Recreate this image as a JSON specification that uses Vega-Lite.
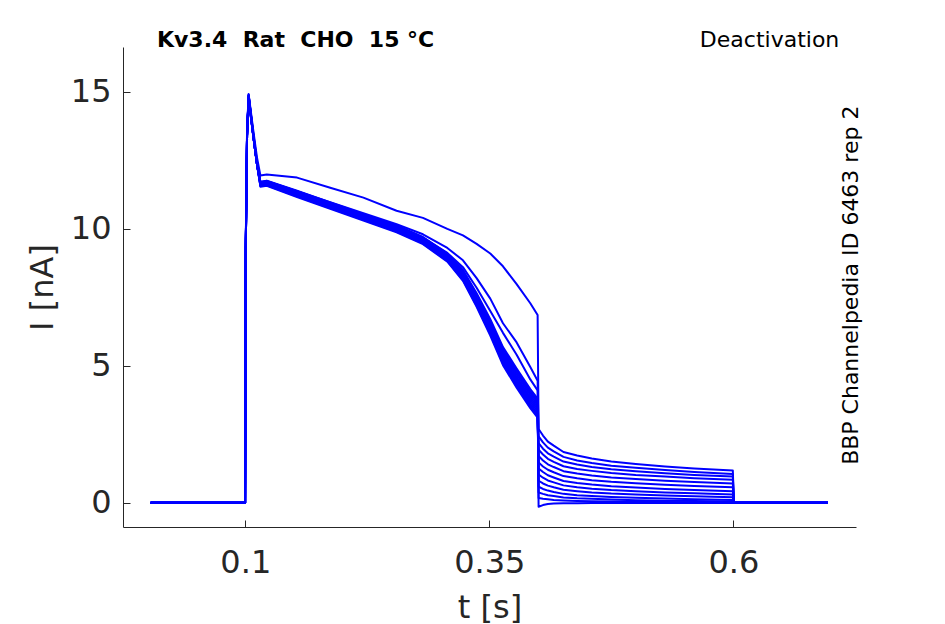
{
  "$schema": "https://vega.github.io/schema/vega-lite/v6.json",
  "width": 733,
  "height": 480,
  "autosize": {"type": "none"},
  "padding": {"left": 123, "top": 47, "right": 89, "bottom": 97},
  "background": "white",
  "datasets": {
    "traces": [
      {"s":1,"t":0.003,"i":0},{"s":1,"t":0.0998,"i":0},{"s":1,"t":0.1005,"i":9.5},{"s":1,"t":0.1018,"i":13.6},{"s":1,"t":0.1034,"i":14.92},{"s":1,"t":0.1085,"i":13.5},{"s":1,"t":0.112,"i":12.6},{"s":1,"t":0.1155,"i":11.95},{"s":1,"t":0.122,"i":11.98},{"s":1,"t":0.153,"i":11.87},{"s":1,"t":0.187,"i":11.5},{"s":1,"t":0.221,"i":11.14},{"s":1,"t":0.255,"i":10.66},{"s":1,"t":0.282,"i":10.4},{"s":1,"t":0.307,"i":10.0},{"s":1,"t":0.323,"i":9.76},{"s":1,"t":0.337,"i":9.45},{"s":1,"t":0.351,"i":9.1},{"s":1,"t":0.364,"i":8.63},{"s":1,"t":0.378,"i":7.98},{"s":1,"t":0.392,"i":7.28},{"s":1,"t":0.3995,"i":6.85},
      {"s":1,"t":0.4005,"i":2.69},{"s":1,"t":0.405,"i":2.45},{"s":1,"t":0.41,"i":2.23},{"s":1,"t":0.416,"i":2.08},{"s":1,"t":0.426,"i":1.85},{"s":1,"t":0.44,"i":1.72},{"s":1,"t":0.455,"i":1.61},{"s":1,"t":0.475,"i":1.5},{"s":1,"t":0.5,"i":1.41},{"s":1,"t":0.53,"i":1.32},{"s":1,"t":0.56,"i":1.25},{"s":1,"t":0.5995,"i":1.17},{"s":1,"t":0.6005,"i":0},{"s":1,"t":0.697,"i":0},

      {"s":2,"t":0.003,"i":0},{"s":2,"t":0.0998,"i":0},{"s":2,"t":0.1005,"i":9.4},{"s":2,"t":0.1018,"i":13.5},{"s":2,"t":0.1034,"i":14.88},{"s":2,"t":0.1085,"i":13.4},{"s":2,"t":0.112,"i":12.45},{"s":2,"t":0.1155,"i":11.7},{"s":2,"t":0.122,"i":11.75},{"s":2,"t":0.153,"i":11.37},{"s":2,"t":0.187,"i":10.97},{"s":2,"t":0.221,"i":10.57},{"s":2,"t":0.255,"i":10.17},{"s":2,"t":0.282,"i":9.8},{"s":2,"t":0.307,"i":9.3},{"s":2,"t":0.323,"i":8.85},{"s":2,"t":0.337,"i":8.2},{"s":2,"t":0.351,"i":7.45},{"s":2,"t":0.364,"i":6.55},{"s":2,"t":0.378,"i":5.85},{"s":2,"t":0.392,"i":4.95},{"s":2,"t":0.3995,"i":4.45},
      {"s":2,"t":0.4005,"i":2.42},{"s":2,"t":0.405,"i":2.2},{"s":2,"t":0.41,"i":2.01},{"s":2,"t":0.416,"i":1.87},{"s":2,"t":0.426,"i":1.67},{"s":2,"t":0.44,"i":1.54},{"s":2,"t":0.455,"i":1.45},{"s":2,"t":0.475,"i":1.35},{"s":2,"t":0.5,"i":1.27},{"s":2,"t":0.53,"i":1.19},{"s":2,"t":0.56,"i":1.12},{"s":2,"t":0.5995,"i":1.05},{"s":2,"t":0.6005,"i":0},{"s":2,"t":0.697,"i":0},

      {"s":3,"t":0.003,"i":0},{"s":3,"t":0.0998,"i":0},{"s":3,"t":0.1005,"i":9.4},{"s":3,"t":0.1018,"i":13.5},{"s":3,"t":0.1034,"i":14.86},{"s":3,"t":0.1085,"i":13.38},{"s":3,"t":0.112,"i":12.42},{"s":3,"t":0.1155,"i":11.68},{"s":3,"t":0.122,"i":11.72},{"s":3,"t":0.153,"i":11.33},{"s":3,"t":0.187,"i":10.92},{"s":3,"t":0.221,"i":10.5},{"s":3,"t":0.255,"i":10.1},{"s":3,"t":0.282,"i":9.68},{"s":3,"t":0.307,"i":9.12},{"s":3,"t":0.323,"i":8.6},{"s":3,"t":0.337,"i":7.85},{"s":3,"t":0.351,"i":7.0},{"s":3,"t":0.364,"i":6.2},{"s":3,"t":0.378,"i":5.4},{"s":3,"t":0.392,"i":4.5},{"s":3,"t":0.3995,"i":4.1},
      {"s":3,"t":0.4005,"i":2.17},{"s":3,"t":0.405,"i":1.97},{"s":3,"t":0.41,"i":1.8},{"s":3,"t":0.416,"i":1.68},{"s":3,"t":0.426,"i":1.5},{"s":3,"t":0.44,"i":1.39},{"s":3,"t":0.455,"i":1.3},{"s":3,"t":0.475,"i":1.22},{"s":3,"t":0.5,"i":1.15},{"s":3,"t":0.53,"i":1.07},{"s":3,"t":0.56,"i":1.01},{"s":3,"t":0.5995,"i":0.95},{"s":3,"t":0.6005,"i":0},{"s":3,"t":0.697,"i":0},

      {"s":4,"t":0.003,"i":0},{"s":4,"t":0.0998,"i":0},{"s":4,"t":0.1005,"i":9.3},{"s":4,"t":0.1018,"i":13.4},{"s":4,"t":0.1034,"i":14.72},{"s":4,"t":0.1085,"i":13.3},{"s":4,"t":0.112,"i":12.35},{"s":4,"t":0.1155,"i":11.54},{"s":4,"t":0.122,"i":11.57},{"s":4,"t":0.153,"i":11.16},{"s":4,"t":0.187,"i":10.73},{"s":4,"t":0.221,"i":10.3},{"s":4,"t":0.255,"i":9.87},{"s":4,"t":0.282,"i":9.44},{"s":4,"t":0.307,"i":8.8},{"s":4,"t":0.323,"i":8.1},{"s":4,"t":0.337,"i":7.15},{"s":4,"t":0.351,"i":6.1},{"s":4,"t":0.364,"i":5.02},{"s":4,"t":0.378,"i":4.2},{"s":4,"t":0.392,"i":3.45},{"s":4,"t":0.3995,"i":3.1},
      {"s":4,"t":0.4005,"i":1.93},{"s":4,"t":0.405,"i":1.76},{"s":4,"t":0.41,"i":1.6},{"s":4,"t":0.416,"i":1.49},{"s":4,"t":0.426,"i":1.33},{"s":4,"t":0.44,"i":1.23},{"s":4,"t":0.455,"i":1.16},{"s":4,"t":0.475,"i":1.08},{"s":4,"t":0.5,"i":1.01},{"s":4,"t":0.53,"i":0.95},{"s":4,"t":0.56,"i":0.89},{"s":4,"t":0.5995,"i":0.84},{"s":4,"t":0.6005,"i":0},{"s":4,"t":0.697,"i":0},

      {"s":5,"t":0.003,"i":0},{"s":5,"t":0.0998,"i":0},{"s":5,"t":0.1005,"i":9.3},{"s":5,"t":0.1018,"i":13.4},{"s":5,"t":0.1034,"i":14.74},{"s":5,"t":0.1085,"i":13.3},{"s":5,"t":0.112,"i":12.35},{"s":5,"t":0.1155,"i":11.56},{"s":5,"t":0.122,"i":11.59},{"s":5,"t":0.153,"i":11.19},{"s":5,"t":0.187,"i":10.76},{"s":5,"t":0.221,"i":10.33},{"s":5,"t":0.255,"i":9.9},{"s":5,"t":0.282,"i":9.47},{"s":5,"t":0.307,"i":8.83},{"s":5,"t":0.323,"i":8.14},{"s":5,"t":0.337,"i":7.2},{"s":5,"t":0.351,"i":6.17},{"s":5,"t":0.364,"i":5.09},{"s":5,"t":0.378,"i":4.28},{"s":5,"t":0.392,"i":3.53},{"s":5,"t":0.3995,"i":3.18},
      {"s":5,"t":0.4005,"i":1.7},{"s":5,"t":0.405,"i":1.54},{"s":5,"t":0.41,"i":1.4},{"s":5,"t":0.416,"i":1.3},{"s":5,"t":0.426,"i":1.15},{"s":5,"t":0.44,"i":1.06},{"s":5,"t":0.455,"i":0.99},{"s":5,"t":0.475,"i":0.92},{"s":5,"t":0.5,"i":0.86},{"s":5,"t":0.53,"i":0.8},{"s":5,"t":0.56,"i":0.75},{"s":5,"t":0.5995,"i":0.7},{"s":5,"t":0.6005,"i":0},{"s":5,"t":0.697,"i":0},

      {"s":6,"t":0.003,"i":0},{"s":6,"t":0.0998,"i":0},{"s":6,"t":0.1005,"i":9.3},{"s":6,"t":0.1018,"i":13.4},{"s":6,"t":0.1034,"i":14.76},{"s":6,"t":0.1085,"i":13.3},{"s":6,"t":0.112,"i":12.35},{"s":6,"t":0.1155,"i":11.58},{"s":6,"t":0.122,"i":11.62},{"s":6,"t":0.153,"i":11.22},{"s":6,"t":0.187,"i":10.79},{"s":6,"t":0.221,"i":10.36},{"s":6,"t":0.255,"i":9.93},{"s":6,"t":0.282,"i":9.5},{"s":6,"t":0.307,"i":8.87},{"s":6,"t":0.323,"i":8.19},{"s":6,"t":0.337,"i":7.26},{"s":6,"t":0.351,"i":6.23},{"s":6,"t":0.364,"i":5.17},{"s":6,"t":0.378,"i":4.35},{"s":6,"t":0.392,"i":3.6},{"s":6,"t":0.3995,"i":3.25},
      {"s":6,"t":0.4005,"i":1.47},{"s":6,"t":0.405,"i":1.32},{"s":6,"t":0.41,"i":1.2},{"s":6,"t":0.416,"i":1.11},{"s":6,"t":0.426,"i":0.97},{"s":6,"t":0.44,"i":0.89},{"s":6,"t":0.455,"i":0.82},{"s":6,"t":0.475,"i":0.76},{"s":6,"t":0.5,"i":0.71},{"s":6,"t":0.53,"i":0.65},{"s":6,"t":0.56,"i":0.61},{"s":6,"t":0.5995,"i":0.56},{"s":6,"t":0.6005,"i":0},{"s":6,"t":0.697,"i":0},

      {"s":7,"t":0.003,"i":0},{"s":7,"t":0.0998,"i":0},{"s":7,"t":0.1005,"i":9.3},{"s":7,"t":0.1018,"i":13.4},{"s":7,"t":0.1034,"i":14.78},{"s":7,"t":0.1085,"i":13.3},{"s":7,"t":0.112,"i":12.35},{"s":7,"t":0.1155,"i":11.6},{"s":7,"t":0.122,"i":11.64},{"s":7,"t":0.153,"i":11.24},{"s":7,"t":0.187,"i":10.81},{"s":7,"t":0.221,"i":10.38},{"s":7,"t":0.255,"i":9.96},{"s":7,"t":0.282,"i":9.53},{"s":7,"t":0.307,"i":8.9},{"s":7,"t":0.323,"i":8.23},{"s":7,"t":0.337,"i":7.32},{"s":7,"t":0.351,"i":6.3},{"s":7,"t":0.364,"i":5.24},{"s":7,"t":0.378,"i":4.43},{"s":7,"t":0.392,"i":3.68},{"s":7,"t":0.3995,"i":3.33},
      {"s":7,"t":0.4005,"i":1.25},{"s":7,"t":0.405,"i":1.12},{"s":7,"t":0.41,"i":1.0},{"s":7,"t":0.416,"i":0.92},{"s":7,"t":0.426,"i":0.79},{"s":7,"t":0.44,"i":0.72},{"s":7,"t":0.455,"i":0.66},{"s":7,"t":0.475,"i":0.6},{"s":7,"t":0.5,"i":0.55},{"s":7,"t":0.53,"i":0.5},{"s":7,"t":0.56,"i":0.46},{"s":7,"t":0.5995,"i":0.42},{"s":7,"t":0.6005,"i":0},{"s":7,"t":0.697,"i":0},

      {"s":8,"t":0.003,"i":0},{"s":8,"t":0.0998,"i":0},{"s":8,"t":0.1005,"i":9.3},{"s":8,"t":0.1018,"i":13.4},{"s":8,"t":0.1034,"i":14.8},{"s":8,"t":0.1085,"i":13.3},{"s":8,"t":0.112,"i":12.35},{"s":8,"t":0.1155,"i":11.62},{"s":8,"t":0.122,"i":11.66},{"s":8,"t":0.153,"i":11.27},{"s":8,"t":0.187,"i":10.84},{"s":8,"t":0.221,"i":10.41},{"s":8,"t":0.255,"i":9.99},{"s":8,"t":0.282,"i":9.56},{"s":8,"t":0.307,"i":8.93},{"s":8,"t":0.323,"i":8.28},{"s":8,"t":0.337,"i":7.37},{"s":8,"t":0.351,"i":6.37},{"s":8,"t":0.364,"i":5.31},{"s":8,"t":0.378,"i":4.51},{"s":8,"t":0.392,"i":3.76},{"s":8,"t":0.3995,"i":3.41},
      {"s":8,"t":0.4005,"i":1.03},{"s":8,"t":0.405,"i":0.91},{"s":8,"t":0.41,"i":0.81},{"s":8,"t":0.416,"i":0.74},{"s":8,"t":0.426,"i":0.63},{"s":8,"t":0.44,"i":0.56},{"s":8,"t":0.455,"i":0.51},{"s":8,"t":0.475,"i":0.46},{"s":8,"t":0.5,"i":0.42},{"s":8,"t":0.53,"i":0.37},{"s":8,"t":0.56,"i":0.34},{"s":8,"t":0.5995,"i":0.3},{"s":8,"t":0.6005,"i":0},{"s":8,"t":0.697,"i":0},

      {"s":9,"t":0.003,"i":0},{"s":9,"t":0.0998,"i":0},{"s":9,"t":0.1005,"i":9.3},{"s":9,"t":0.1018,"i":13.4},{"s":9,"t":0.1034,"i":14.82},{"s":9,"t":0.1085,"i":13.3},{"s":9,"t":0.112,"i":12.35},{"s":9,"t":0.1155,"i":11.64},{"s":9,"t":0.122,"i":11.68},{"s":9,"t":0.153,"i":11.29},{"s":9,"t":0.187,"i":10.86},{"s":9,"t":0.221,"i":10.43},{"s":9,"t":0.255,"i":10.02},{"s":9,"t":0.282,"i":9.59},{"s":9,"t":0.307,"i":8.97},{"s":9,"t":0.323,"i":8.32},{"s":9,"t":0.337,"i":7.43},{"s":9,"t":0.351,"i":6.43},{"s":9,"t":0.364,"i":5.39},{"s":9,"t":0.378,"i":4.59},{"s":9,"t":0.392,"i":3.84},{"s":9,"t":0.3995,"i":3.49},
      {"s":9,"t":0.4005,"i":0.8},{"s":9,"t":0.405,"i":0.7},{"s":9,"t":0.41,"i":0.62},{"s":9,"t":0.416,"i":0.56},{"s":9,"t":0.426,"i":0.47},{"s":9,"t":0.44,"i":0.42},{"s":9,"t":0.455,"i":0.37},{"s":9,"t":0.475,"i":0.33},{"s":9,"t":0.5,"i":0.3},{"s":9,"t":0.53,"i":0.26},{"s":9,"t":0.56,"i":0.23},{"s":9,"t":0.5995,"i":0.2},{"s":9,"t":0.6005,"i":0},{"s":9,"t":0.697,"i":0},

      {"s":10,"t":0.003,"i":0},{"s":10,"t":0.0998,"i":0},{"s":10,"t":0.1005,"i":9.3},{"s":10,"t":0.1018,"i":13.4},{"s":10,"t":0.1034,"i":14.84},{"s":10,"t":0.1085,"i":13.3},{"s":10,"t":0.112,"i":12.35},{"s":10,"t":0.1155,"i":11.66},{"s":10,"t":0.122,"i":11.7},{"s":10,"t":0.153,"i":11.32},{"s":10,"t":0.187,"i":10.89},{"s":10,"t":0.221,"i":10.46},{"s":10,"t":0.255,"i":10.05},{"s":10,"t":0.282,"i":9.62},{"s":10,"t":0.307,"i":9.0},{"s":10,"t":0.323,"i":8.37},{"s":10,"t":0.337,"i":7.48},{"s":10,"t":0.351,"i":6.5},{"s":10,"t":0.364,"i":5.46},{"s":10,"t":0.378,"i":4.67},{"s":10,"t":0.392,"i":3.92},{"s":10,"t":0.3995,"i":3.57},
      {"s":10,"t":0.4005,"i":0.58},{"s":10,"t":0.405,"i":0.5},{"s":10,"t":0.41,"i":0.44},{"s":10,"t":0.416,"i":0.39},{"s":10,"t":0.426,"i":0.32},{"s":10,"t":0.44,"i":0.27},{"s":10,"t":0.455,"i":0.24},{"s":10,"t":0.475,"i":0.21},{"s":10,"t":0.5,"i":0.18},{"s":10,"t":0.53,"i":0.15},{"s":10,"t":0.56,"i":0.12},{"s":10,"t":0.5995,"i":0.1},{"s":10,"t":0.6005,"i":0},{"s":10,"t":0.697,"i":0},

      {"s":11,"t":0.003,"i":0},{"s":11,"t":0.0998,"i":0},{"s":11,"t":0.1005,"i":9.3},{"s":11,"t":0.1018,"i":13.4},{"s":11,"t":0.1034,"i":14.86},{"s":11,"t":0.1085,"i":13.3},{"s":11,"t":0.112,"i":12.35},{"s":11,"t":0.1155,"i":11.68},{"s":11,"t":0.122,"i":11.72},{"s":11,"t":0.153,"i":11.34},{"s":11,"t":0.187,"i":10.91},{"s":11,"t":0.221,"i":10.48},{"s":11,"t":0.255,"i":10.08},{"s":11,"t":0.282,"i":9.65},{"s":11,"t":0.307,"i":9.03},{"s":11,"t":0.323,"i":8.41},{"s":11,"t":0.337,"i":7.54},{"s":11,"t":0.351,"i":6.57},{"s":11,"t":0.364,"i":5.53},{"s":11,"t":0.378,"i":4.75},{"s":11,"t":0.392,"i":4.0},{"s":11,"t":0.3995,"i":3.65},
      {"s":11,"t":0.4005,"i":0.37},{"s":11,"t":0.405,"i":0.32},{"s":11,"t":0.41,"i":0.27},{"s":11,"t":0.416,"i":0.24},{"s":11,"t":0.426,"i":0.19},{"s":11,"t":0.44,"i":0.16},{"s":11,"t":0.455,"i":0.14},{"s":11,"t":0.475,"i":0.11},{"s":11,"t":0.5,"i":0.09},{"s":11,"t":0.53,"i":0.07},{"s":11,"t":0.56,"i":0.06},{"s":11,"t":0.5995,"i":0.04},{"s":11,"t":0.6005,"i":0},{"s":11,"t":0.697,"i":0},

      {"s":12,"t":0.003,"i":0},{"s":12,"t":0.0998,"i":0},{"s":12,"t":0.1005,"i":9.3},{"s":12,"t":0.1018,"i":13.4},{"s":12,"t":0.1034,"i":14.88},{"s":12,"t":0.1085,"i":13.3},{"s":12,"t":0.112,"i":12.35},{"s":12,"t":0.1155,"i":11.7},{"s":12,"t":0.122,"i":11.74},{"s":12,"t":0.153,"i":11.37},{"s":12,"t":0.187,"i":10.94},{"s":12,"t":0.221,"i":10.51},{"s":12,"t":0.255,"i":10.11},{"s":12,"t":0.282,"i":9.68},{"s":12,"t":0.307,"i":9.07},{"s":12,"t":0.323,"i":8.46},{"s":12,"t":0.337,"i":7.6},{"s":12,"t":0.351,"i":6.63},{"s":12,"t":0.364,"i":5.61},{"s":12,"t":0.378,"i":4.82},{"s":12,"t":0.392,"i":4.07},{"s":12,"t":0.3995,"i":3.72},
      {"s":12,"t":0.4005,"i":0.17},{"s":12,"t":0.405,"i":0.14},{"s":12,"t":0.41,"i":0.12},{"s":12,"t":0.416,"i":0.1},{"s":12,"t":0.426,"i":0.08},{"s":12,"t":0.44,"i":0.06},{"s":12,"t":0.455,"i":0.05},{"s":12,"t":0.475,"i":0.04},{"s":12,"t":0.5,"i":0.03},{"s":12,"t":0.53,"i":0.02},{"s":12,"t":0.56,"i":0.01},{"s":12,"t":0.5995,"i":0},{"s":12,"t":0.6005,"i":0},{"s":12,"t":0.697,"i":0},

      {"s":13,"t":0.003,"i":0},{"s":13,"t":0.0998,"i":0},{"s":13,"t":0.1005,"i":9.3},{"s":13,"t":0.1018,"i":13.4},{"s":13,"t":0.1034,"i":14.9},{"s":13,"t":0.1085,"i":13.3},{"s":13,"t":0.112,"i":12.35},{"s":13,"t":0.1155,"i":11.72},{"s":13,"t":0.122,"i":11.76},{"s":13,"t":0.153,"i":11.39},{"s":13,"t":0.187,"i":10.96},{"s":13,"t":0.221,"i":10.53},{"s":13,"t":0.255,"i":10.13},{"s":13,"t":0.282,"i":9.7},{"s":13,"t":0.307,"i":9.1},{"s":13,"t":0.323,"i":8.5},{"s":13,"t":0.337,"i":7.65},{"s":13,"t":0.351,"i":6.7},{"s":13,"t":0.364,"i":5.68},{"s":13,"t":0.378,"i":4.9},{"s":13,"t":0.392,"i":4.15},{"s":13,"t":0.3995,"i":3.8},
      {"s":13,"t":0.4005,"i":-0.15},{"s":13,"t":0.405,"i":-0.09},{"s":13,"t":0.41,"i":-0.05},{"s":13,"t":0.416,"i":-0.03},{"s":13,"t":0.426,"i":-0.02},{"s":13,"t":0.44,"i":-0.02},{"s":13,"t":0.455,"i":-0.01},{"s":13,"t":0.475,"i":-0.01},{"s":13,"t":0.5,"i":-0.01},{"s":13,"t":0.53,"i":-0.01},{"s":13,"t":0.56,"i":-0.01},{"s":13,"t":0.5995,"i":-0.01},{"s":13,"t":0.6005,"i":0},{"s":13,"t":0.697,"i":0}
    ]
  },
  "layer": [
    {
      "data": {"name": "traces"},
      "mark": {"type": "line", "color": "#0000ff", "strokeWidth": 2, "strokeJoin": "round"},
      "encoding": {
        "x": {
          "field": "t",
          "type": "quantitative",
          "scale": {"domain": [-0.0253, 0.7257], "nice": false, "zero": false},
          "axis": {"values": [0.1, 0.35, 0.6], "format": "~g", "title": "t [s]", "labelPadding": 27, "titlePadding": 14}
        },
        "y": {
          "field": "i",
          "type": "quantitative",
          "scale": {"domain": [-0.89, 16.64], "nice": false, "zero": false},
          "axis": {"values": [0, 5, 10, 15], "format": "d", "title": "I [nA]", "labelPadding": 19, "titlePadding": 11}
        },
        "detail": {"field": "s", "type": "nominal"}
      }
    },
    {
      "data": {"values": [{}]},
      "mark": {"type": "text", "font": "DejaVu Sans", "fontWeight": "bold", "fontSize": 22, "align": "left", "baseline": "alphabetic", "color": "black"},
      "encoding": {
        "x": {"datum": 0.0095, "type": "quantitative"},
        "y": {"datum": 16.65, "type": "quantitative"},
        "text": {"value": "Kv3.4\u00a0\u00a0Rat\u00a0\u00a0CHO\u00a0\u00a015 °C"}
      }
    },
    {
      "data": {"values": [{}]},
      "mark": {"type": "text", "font": "DejaVu Sans", "fontSize": 22, "align": "right", "baseline": "alphabetic", "color": "black"},
      "encoding": {
        "x": {"datum": 0.7086, "type": "quantitative"},
        "y": {"datum": 16.65, "type": "quantitative"},
        "text": {"value": "Deactivation"}
      }
    },
    {
      "data": {"values": [{}]},
      "mark": {"type": "text", "font": "DejaVu Sans", "fontSize": 22, "align": "center", "baseline": "alphabetic", "angle": 270, "color": "black"},
      "encoding": {
        "x": {"datum": 0.7278, "type": "quantitative"},
        "y": {"datum": 7.94, "type": "quantitative"},
        "text": {"value": "BBP Channelpedia ID 6463 rep 2"}
      }
    }
  ],
  "config": {
    "view": {"stroke": null},
    "font": "DejaVu Sans",
    "axis": {
      "grid": false,
      "domainColor": "#262626",
      "domainWidth": 1,
      "tickColor": "#262626",
      "tickSize": -7,
      "tickWidth": 1,
      "labelColor": "#262626",
      "labelFont": "DejaVu Sans",
      "labelFontSize": 32,
      "titleColor": "#262626",
      "titleFont": "DejaVu Sans",
      "titleFontSize": 32,
      "titleFontWeight": "normal"
    }
  }
}
